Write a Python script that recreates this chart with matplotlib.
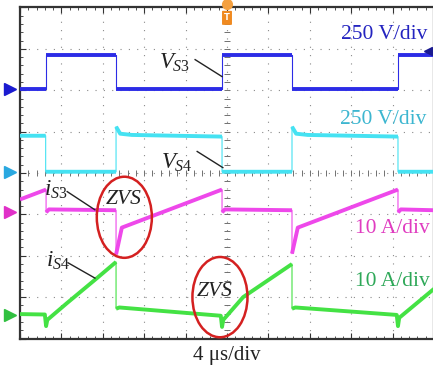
import numpy as np
import matplotlib
matplotlib.use('Agg')
import matplotlib.pyplot as plt
from matplotlib.patches import Ellipse, FancyBboxPatch

plt.rcParams['font.family'] = ['Liberation Serif', 'DejaVu Serif']
plt.rcParams['mathtext.fontset'] = 'custom'
plt.rcParams['mathtext.rm'] = 'Liberation Serif'
plt.rcParams['mathtext.it'] = 'Liberation Serif:italic'
plt.rcParams['mathtext.default'] = 'it'

# screen coordinates in divisions (10 x 8), breakpoints
vs3_t = [0, 0.63, 0.63, 2.32, 2.32, 4.88, 4.88, 6.57, 6.57, 9.13, 9.13, 10]
vs3_v = [6.03, 6.03, 6.84, 6.84, 6.03, 6.03, 6.84, 6.84, 6.03, 6.03, 6.84, 6.84]

vs4_t = [0, 0.62, 0.62, 2.32, 2.32, 2.42, 2.7, 4.88, 4.88, 6.57, 6.57, 6.67, 6.95, 9.13, 9.13, 10]
vs4_v = [4.9, 4.9, 4.03, 4.03, 5.12, 4.95, 4.92, 4.88, 4.03, 4.03, 5.12, 4.95, 4.92, 4.88, 4.03, 4.03]

is3_t = [0, 0.63, 0.63, 0.7, 2.32, 2.32, 2.46, 4.88, 4.88, 4.95, 6.57, 6.57, 6.71, 9.13, 9.13, 9.2, 10]
is3_v = [3.36, 3.6, 3.05, 3.12, 3.1, 2.03, 2.68, 3.6, 3.05, 3.12, 3.1, 2.05, 2.68, 3.6, 3.05, 3.12, 3.1]

is4_t = [0, 0.6, 0.63, 0.66, 1.14, 1.86, 2.32, 2.32, 2.4, 4.85, 4.88, 4.91, 5.39, 6.57, 6.57, 6.65, 9.1, 9.13, 9.16, 10]
is4_v = [0.59, 0.58, 0.3, 0.45, 0.86, 1.46, 1.85, 0.72, 0.75, 0.55, 0.28, 0.45, 1.0, 1.8, 0.72, 0.75, 0.57, 0.3, 0.5, 1.2]

traces = [
    (vs3_t, vs3_v, '#2c2ce6', 6.03),
    (vs4_t, vs4_v, '#45e2f2', 4.03),
    (is3_t, is3_v, '#ee48ea', 3.06),
    (is4_t, is4_v, '#44e244', 0.57),
]
marker_cols = ['#1a1ad0', '#2aa8e0', '#e030c8', '#30c040']

fig = plt.figure(figsize=(4.33, 3.75), dpi=100)
ax = fig.add_axes([20 / 433, 1 - 338.5 / 375, 414 / 433, 331 / 375])
ax.set_xlim(0, 10)
ax.set_ylim(0, 8)

# graticule
for gx in range(1, 10):
    ax.axvline(gx, color='#8a8a8a', lw=0.8, ls=(0, (1, 6.5)), zorder=1)
for gy in range(1, 8):
    ax.axhline(gy, color='#8a8a8a', lw=0.8, ls=(0, (1, 6.5)), zorder=1)
cross = np.arange(0, 8.01, 0.2)
ax.plot(np.full(len(cross), 5), cross, ls='', marker='_', ms=4, mew=0.7, color='#707070', zorder=1)
cross = np.arange(0, 10.01, 0.2)
ax.plot(cross, np.full(len(cross), 4), ls='', marker='|', ms=4, mew=0.7, color='#707070', zorder=1)

ax.set_xticks(range(0, 11))
ax.set_xticks(np.arange(0, 10.01, 0.2), minor=True)
ax.set_yticks(range(0, 9))
ax.set_yticks(np.arange(0, 8.01, 0.2), minor=True)
ax.tick_params(which='both', direction='in', top=True, right=False,
               labelbottom=False, labelleft=False, color='#333333')
ax.tick_params(which='major', length=4, width=0.8)
ax.tick_params(which='minor', length=2.5, width=0.6)
for s in ax.spines.values():
    s.set_color('#333333')
    s.set_linewidth(1.6)

for i, (t, v, c, gnd) in enumerate(traces):
    ax.plot(t, v, color=c, lw=0.8, zorder=3)
    # thick band only on the non-vertical parts, edges stay thin like on the scope
    tt, vv = [], []
    for k in range(len(t)):
        if k > 0 and t[k] == t[k - 1]:
            tt.append(np.nan)
            vv.append(np.nan)
        tt.append(t[k])
        vv.append(v[k])
    ax.plot(tt, vv, color=c, lw=2.8, zorder=3, solid_capstyle='butt')
    ax.plot([-0.25], [gnd], marker='>', ms=8, color=marker_cols[i], clip_on=False, zorder=5)

ax.plot([9.85], [6.95], marker='<', ms=6, color='#1a1a90', clip_on=False, zorder=5)

# trigger marker
ax.add_patch(FancyBboxPatch((4.9, 7.6), 0.2, 0.3, boxstyle='round,pad=0.02',
                            fc='#f08a20', ec='none', clip_on=False, zorder=6,
                            transform=ax.transData))
ax.plot([5.0], [8.08], marker='o', ms=7, color='#f4a040', clip_on=False, zorder=6)
ax.text(5.0, 7.75, 'T', color='white', fontsize=6, ha='center', va='center',
        fontweight='bold', zorder=7, family='DejaVu Sans')

# channel scale labels
ax.text(8.79, 7.35, '250 V/div', color='#2424c0', fontsize=15.5, ha='center', va='center', zorder=6)
ax.text(8.77, 5.29, '250 V/div', color='#3cb6d0', fontsize=15.5, ha='center', va='center', zorder=6)
ax.text(8.99, 2.67, '10 A/div', color='#e03cc0', fontsize=15.5, ha='center', va='center', zorder=6)
ax.text(8.99, 1.37, '10 A/div', color='#2ea858', fontsize=15.5, ha='center', va='center', zorder=6)

# trace names with leader lines
ax.text(3.74, 6.67, r'$V_{S3}$', fontsize=16.5, ha='center', va='center', color='#222222', zorder=6)
ax.plot([4.23, 4.88], [6.74, 6.33], color='#222222', lw=1.0, zorder=6)
ax.text(3.79, 4.25, r'$V_{S4}$', fontsize=16.5, ha='center', va='center', color='#222222', zorder=6)
ax.plot([4.28, 4.90], [4.52, 4.13], color='#222222', lw=1.0, zorder=6)
ax.text(0.87, 3.6, r'$i_{S3}$', fontsize=16.5, ha='center', va='center', color='#222222', zorder=6)
ax.plot([1.14, 1.81], [3.55, 3.11], color='#222222', lw=1.0, zorder=6)
ax.text(0.92, 1.88, r'$i_{S4}$', fontsize=16.5, ha='center', va='center', color='#222222', zorder=6)
ax.plot([1.16, 1.81], [1.83, 1.46], color='#222222', lw=1.0, zorder=6)

# ZVS marks
ax.add_patch(Ellipse((2.52, 2.93), 1.33, 1.96, fill=False, ec='#d42020', lw=1.8, zorder=6))
ax.text(2.51, 3.35, 'ZVS', fontsize=15.5, style='italic', ha='center', va='center', color='#222222', zorder=6)
ax.add_patch(Ellipse((4.83, 1.0), 1.33, 1.94, fill=False, ec='#d42020', lw=1.8, zorder=6, clip_on=False))
ax.text(4.71, 1.13, 'ZVS', fontsize=15.5, style='italic', ha='center', va='center', color='#222222', zorder=6)

fig.text(0.524, 0.053, '4 μs/div', fontsize=15, ha='center', va='center', color='#222222')

fig.savefig('out.png', dpi=100)
